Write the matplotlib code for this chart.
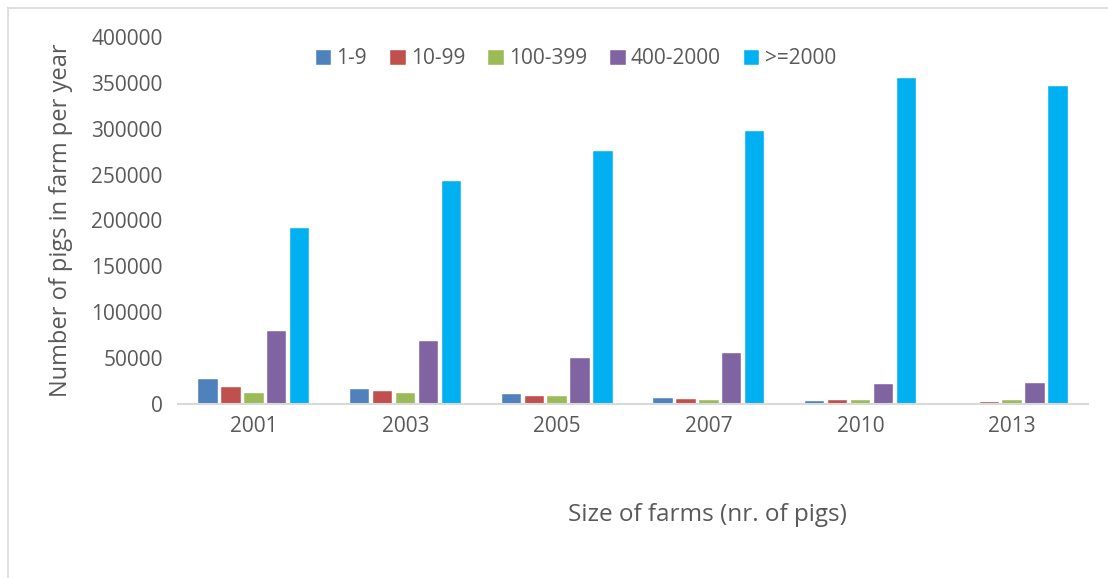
import matplotlib.pyplot as plt
import numpy as np
from matplotlib.lines import Line2D

years = ['2001', '2003', '2005', '2007', '2010', '2013']
sizes = ['1-9', '10-99', '100-399', '400-2000', '>=2000']
pigs_1_9 = [27000, 16500, 10500, 6500, 3300, 1500]
pigs_10_99 = [18500, 13800, 8400, 5100, 4000, 1900]
pigs_100_399 = [12000, 12300, 9000, 4500, 4500, 4500]
pigs_400_2000 = [80000, 68700, 50000, 55500, 21500, 23200]
pigs_2000_up = [192000, 243000, 276000, 297500, 355000, 346500]
series = [pigs_1_9, pigs_10_99, pigs_100_399, pigs_400_2000, pigs_2000_up]
colors = ['#4f81bd', '#c0504d', '#9bbb59', '#8064a2', '#00b0f0']

plt.rcParams['font.family'] = ['Open Sans', 'DejaVu Sans']
txt = '#595959'

fig = plt.figure(figsize=(11.08, 5.78), dpi=100)
ax = fig.add_axes([178/1108, 1 - 404/578, 910/1108, 367/578])

x = np.arange(len(years))
step = 0.151
w = 0.128
for i, (vals, c) in enumerate(zip(series, colors)):
    ax.bar(x + (i - 2) * step, vals, w, color=c, label=sizes[i],
           edgecolor='white', linewidth=0.3)

ax.set_xlim(-0.5, len(years) - 0.5)
ax.set_ylim(0, 400000)
ax.set_yticks(np.arange(0, 400001, 50000))
ax.set_xticks(x)
ax.set_xticklabels(years)
ax.tick_params(axis='both', length=0, colors=txt, labelsize=15)
ax.tick_params(axis='y', pad=11)
ax.tick_params(axis='x', pad=9)
for s in ['top', 'right', 'left']:
    ax.spines[s].set_visible(False)
ax.spines['bottom'].set_color('#d9d9d9')
ax.spines['bottom'].set_linewidth(1.5)

ax.set_ylabel('Number of pigs in farm per year', fontsize=17, color=txt, labelpad=13)
fig.text(707/1108, 1 - 515/578, 'Size of farms (nr. of pigs)', fontsize=17.5,
         color=txt, ha='center', va='center')

ax.legend(loc='upper center', bbox_to_anchor=(0.437, 1.02), ncol=5, frameon=False,
          fontsize=15, handlelength=0.75, handleheight=0.75, handletextpad=0.25,
          columnspacing=1.1, labelcolor=txt)

# chart border
fig.add_artist(Line2D([8/1108, 8/1108], [0, 1 - 8/578], color='#d9d9d9', lw=1.2))
fig.add_artist(Line2D([8/1108, 1], [1 - 8/578, 1 - 8/578], color='#d9d9d9', lw=1.2))

fig.savefig('out.png', dpi=100)
